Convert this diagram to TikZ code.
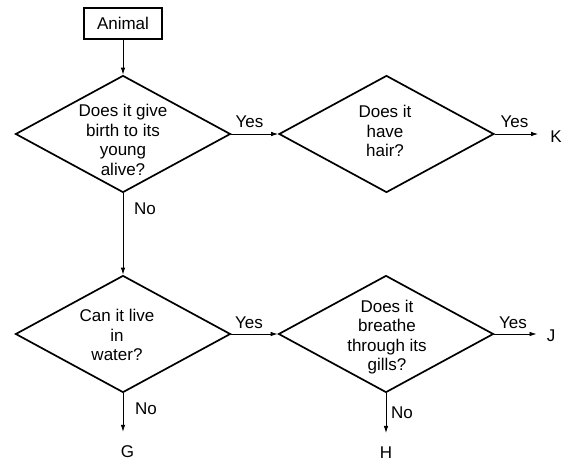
\documentclass[tikz,border=0pt]{standalone}
\usepackage{fontspec}
\setmainfont{Liberation Sans}
\usetikzlibrary{shapes.geometric,arrows.meta}
\begin{document}
\begin{tikzpicture}[x=1pt,y=-1pt,
  every node/.style={font=\fontsize{17}{19.5}\selectfont, inner sep=0pt},
  startbox/.style={draw, line width=1.7pt, minimum width=78pt, minimum height=31pt},
  dia/.style={draw, shape=diamond, line width=1.7pt, minimum width=215pt, minimum height=117pt, inner sep=0pt},
  qtext/.style={align=center},
  conn/.style={line width=0.8pt, -{Latex[length=7pt,width=4.5pt]}}
]
\useasboundingbox (0,0) rectangle (584,466);
\node[startbox] (animal) at (123,23.5) {Animal};
\node[dia] (d1) at (123,134) {};
\node[dia] (d2) at (386.5,134) {};
\node[dia] (d3) at (123,334) {};
\node[dia] (d4) at (386,334) {};
\node[qtext] (t1) at (123,140) {Does it give\\birth to its\\young\\alive?};
\node[qtext] (t2) at (385,131) {Does it\\have\\hair?};
\node[qtext] (t3) at (117,335) {Can it live\\in\\water?};
\node[qtext] (t4) at (387,337) {Does it\\breathe\\through its\\gills?};
\node (K) at (556,137) {K};
\node (J) at (551,336) {J};
\node (G) at (127.5,452) {G};
\node (H) at (386,453) {H};
\node (y1) at (249.5,122) {Yes};
\node (y2) at (514.5,122) {Yes};
\node (y3) at (249,323) {Yes};
\node (y4) at (513,323) {Yes};
\node (n1) at (145,209) {No};
\node (n3) at (146,409) {No};
\node (n4) at (402,412.5) {No};
\draw[conn] (animal.south) -- (d1.north);
\draw[conn] (d1.east) -- (d2.west);
\draw[conn] (d1.south) -- (d3.north);
\draw[conn] (d3.east) -- (d4.west);
\draw[conn, shorten >=12pt] (d2.east) -- (d2.east -| K.west);
\draw[conn, shorten >=10pt] (d4.east) -- (d4.east -| J.west);
\draw[conn, shorten >=14pt] (d3.south) -- (d3.south |- G.north);
\draw[conn, shorten >=14pt] (d4.south) -- (d4.south |- H.north);
\end{tikzpicture}
\end{document}
